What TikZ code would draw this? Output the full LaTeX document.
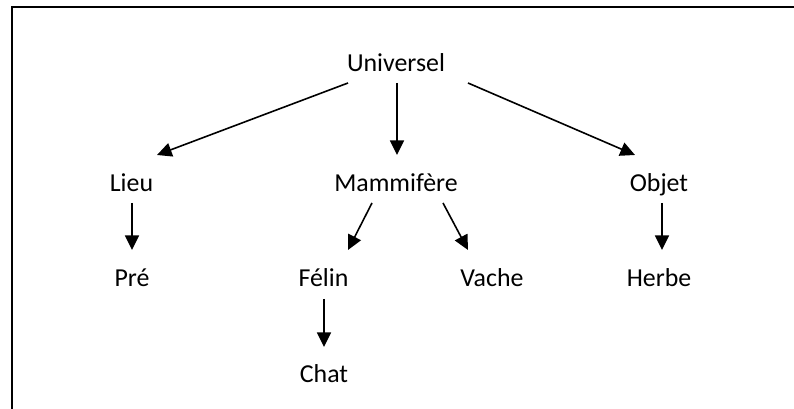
\documentclass[tikz,border=0pt]{standalone}
\usepackage{fontspec}
\setmainfont{Carlito}
\usetikzlibrary{arrows.meta,calc}
\begin{document}
\begin{tikzpicture}[x=0.75pt,y=-0.75pt,
  label/.style={anchor=base,inner sep=0pt,font=\fontsize{19.4}{23}\selectfont},
  arr/.style={line width=1.2pt,-{Triangle[length=11pt,width=10.5pt]}},
  frame/.style={line width=1.6pt}]
  \useasboundingbox (0,0) rectangle (794,409);
  % open frame: top and left edges
  \draw[frame] (12,409) -- (12,7) -- (794,7);

  % concept labels, placed by their baselines
  \node[label] (u)    at (396,72)    {Universel};
  \node[label] (lieu) at (131.5,192) {Lieu};
  \node[label] (mam)  at (396,192)   {Mammifère};
  \node[label] (obj)  at (659,192)   {Objet};
  \node[label] (pre)  at (132,287)   {Pré};
  \node[label] (fel)  at (323.5,287) {Félin};
  \node[label] (vac)  at (492,287)   {Vache};
  \node[label] (her)  at (659,287)   {Herbe};
  \node[label] (chat) at (324,383)   {Chat};

  % hierarchy arrows
  \draw[arr] ($(u.base)+(-48,11)$)   -- ($(lieu.base)+(25.5,-37)$);
  \draw[arr] ($(u.base)+(1,11)$)     -- ($(mam.base)+(1,-37)$);
  \draw[arr] ($(u.base)+(72,11)$)    -- ($(obj.base)+(-24,-37)$);
  \draw[arr] ($(lieu.base)+(0.5,11)$) -- ($(pre.base)+(0,-37)$);
  \draw[arr] ($(mam.base)+(-24,11)$) -- ($(fel.base)+(24.5,-37)$);
  \draw[arr] ($(mam.base)+(47,11)$)  -- ($(vac.base)+(-24,-37)$);
  \draw[arr] ($(obj.base)+(3,11)$)   -- ($(her.base)+(3,-37)$);
  \draw[arr] ($(fel.base)+(0.5,12)$) -- ($(chat.base)+(0,-36)$);
\end{tikzpicture}
\end{document}
